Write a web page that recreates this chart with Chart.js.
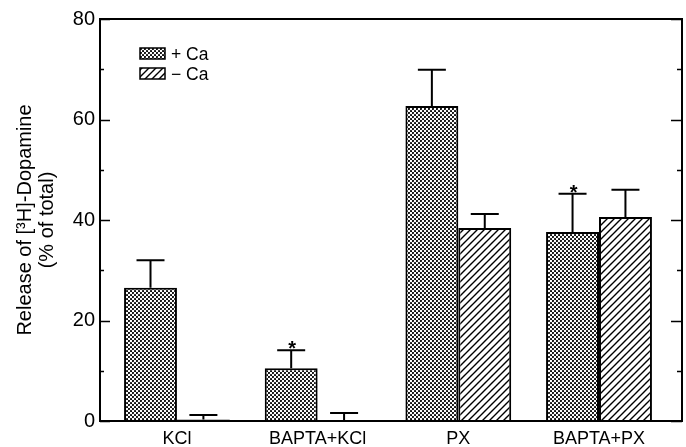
<!DOCTYPE html>
<html>
<head>
<meta charset="utf-8">
<script src="https://cdn.jsdelivr.net/npm/chart.js@4.4.1/dist/chart.umd.min.js"></script>
<style>
  html, body { margin: 0; padding: 0; background: #fff; }
  #wrap { width: 686px; height: 447px; }
</style>
</head>
<body>
<div id="wrap"><canvas id="myChart" width="686" height="447"></canvas></div>
<script>
const categories = ['KCl', 'BAPTA+KCl', 'PX', 'BAPTA+PX'];
const plusCa = [26.5, 10.5, 62.7, 37.6];
const plusCaErr = [5.5, 3.6, 7.2, 7.6];
const minusCa = [0.3, 0.2, 38.4, 40.6];
const minusCaErr = [0.9, 1.4, 2.8, 5.4];
const starred = [false, true, false, true]; // asterisk over the +Ca bar
const yTicks = [0, 20, 40, 60, 80];
const yMinor = [10, 30, 50, 70];

const FONT = '"Liberation Sans", Arial, Helvetica, sans-serif';

function makeStipple() {
  const c = document.createElement('canvas');
  c.width = 4; c.height = 4;
  const g = c.getContext('2d');
  g.fillStyle = '#fff';
  g.fillRect(0, 0, 4, 4);
  g.fillStyle = '#000';
  [[1, 1], [3, 3], [-1, 3], [3, -1], [5, 3], [3, 5], [-1, -1], [5, 5], [1, 5], [5, 1], [-1, 1], [1, -1]].forEach(([x, y]) => {
    g.beginPath();
    g.arc(x, y, 1.05, 0, Math.PI * 2);
    g.fill();
  });
  return g.createPattern(c, 'repeat');
}

function makeHatch() {
  const s = 7;
  const c = document.createElement('canvas');
  c.width = s; c.height = s;
  const g = c.getContext('2d');
  g.fillStyle = '#fff';
  g.fillRect(0, 0, s, s);
  g.strokeStyle = '#000';
  g.lineWidth = 1.4;
  g.beginPath();
  g.moveTo(-1, s + 1); g.lineTo(s + 1, -1);
  g.moveTo(-1, 1); g.lineTo(1, -1);
  g.moveTo(s - 1, s + 1); g.lineTo(s + 1, s - 1);
  g.stroke();
  return g.createPattern(c, 'repeat');
}

const stipple = makeStipple();
const hatch = makeHatch();

const toPoints = arr => arr.map((v, i) => ({ x: i, y: v }));

const errs = [plusCaErr, minusCaErr];

const extrasPlugin = {
  id: 'extras',
  afterDatasetsDraw(chart) {
    const { ctx, chartArea: a, scales } = chart;
    const y = scales.y;
    ctx.save();
    ctx.strokeStyle = '#000';
    ctx.fillStyle = '#000';

    // error bars (upper only)
    chart.data.datasets.forEach((ds, di) => {
      const meta = chart.getDatasetMeta(di);
      meta.data.forEach((bar, i) => {
        const v = ds.data[i].y;
        const top = y.getPixelForValue(v + errs[di][i]);
        ctx.lineWidth = 2;
        ctx.beginPath();
        ctx.moveTo(bar.x, bar.y);
        ctx.lineTo(bar.x, top);
        ctx.moveTo(bar.x - 14, top);
        ctx.lineTo(bar.x + 14, top);
        ctx.stroke();
        if (di === 0 && starred[i]) {
          ctx.font = 'bold 20px ' + FONT;
          ctx.textAlign = 'center';
          ctx.textBaseline = 'alphabetic';
          ctx.fillText('*', bar.x + 1, top + 5);
        }
      });
    });

    // frame
    ctx.lineWidth = 2;
    ctx.strokeRect(a.left, a.top, a.right - a.left, a.bottom - a.top);

    // inward ticks, left and right
    ctx.lineWidth = 1.5;
    ctx.beginPath();
    yTicks.forEach(t => {
      const py = Math.round(y.getPixelForValue(t)) + 0.5;
      ctx.moveTo(a.left, py); ctx.lineTo(a.left + 10, py);
      ctx.moveTo(a.right, py); ctx.lineTo(a.right - 11, py);
    });
    yMinor.forEach(t => {
      const py = Math.round(y.getPixelForValue(t)) + 0.5;
      ctx.moveTo(a.left, py); ctx.lineTo(a.left + 4, py);
      ctx.moveTo(a.right, py); ctx.lineTo(a.right - 5, py);
    });
    ctx.stroke();

    // legend
    const items = [
      { fill: stipple, label: '+ Ca', y: 48 },
      { fill: hatch, label: '\u2212 Ca', y: 68 }
    ];
    items.forEach(it => {
      ctx.fillStyle = it.fill;
      ctx.fillRect(140, it.y, 25, 11);
      ctx.lineWidth = 1.5;
      ctx.strokeRect(140, it.y, 25, 11);
      ctx.fillStyle = '#000';
      ctx.font = '17.5px ' + FONT;
      ctx.textAlign = 'left';
      ctx.textBaseline = 'alphabetic';
      ctx.fillText(it.label, 171, it.y + 12);
    });
    ctx.restore();
  }
};

new Chart(document.getElementById('myChart'), {
  type: 'bar',
  data: {
    datasets: [
      {
        label: '+ Ca',
        data: toPoints(plusCa),
        backgroundColor: stipple,
        borderColor: '#000',
        borderWidth: 2
      },
      {
        label: '\u2212 Ca',
        data: toPoints(minusCa),
        backgroundColor: hatch,
        borderColor: '#000',
        borderWidth: 2
      }
    ]
  },
  options: {
    responsive: false,
    animation: false,
    categoryPercentage: 0.752,
    barPercentage: 1.0,
    layout: { padding: { top: 19, left: 0, right: 4, bottom: 0 } },
    plugins: {
      legend: { display: false },
      tooltip: { enabled: false }
    },
    scales: {
      x: {
        type: 'linear',
        offset: false,
        min: -0.547,
        max: 3.59,
        grid: { display: false, drawTicks: false },
        border: { display: false },
        afterBuildTicks: s => { s.ticks = categories.map((c, i) => ({ value: i })); },
        afterFit: s => { s.height = 26; },
        ticks: {
          padding: 7,
          color: '#000',
          font: { family: FONT, size: 18 },
          maxRotation: 0,
          autoSkip: false,
          callback: v => categories[v] ?? ''
        }
      },
      y: {
        min: 0,
        max: 80,
        grid: { display: false, drawTicks: false },
        border: { display: false },
        afterFit: s => { s.width = 100; },
        afterBuildTicks: s => { s.ticks = yTicks.map(v => ({ value: v })); },
        ticks: {
          padding: 5,
          color: '#000',
          font: { family: FONT, size: 20 }
        },
        title: {
          display: true,
          text: ['Release of [\u00B3H]-Dopamine', '(% of total)'],
          color: '#000',
          font: { family: FONT, size: 20, lineHeight: 1.1 },
          padding: { top: 14, bottom: 0 }
        }
      }
    }
  },
  plugins: [extrasPlugin]
});
</script>
</body>
</html>
